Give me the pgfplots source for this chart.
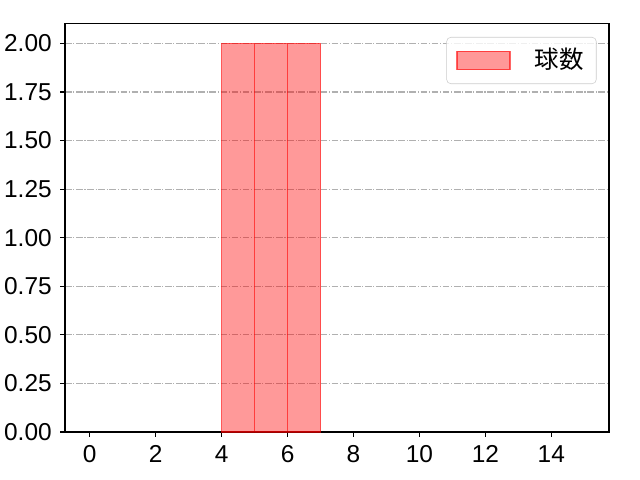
\documentclass[border=0pt]{standalone}
\usepackage{pgfplots}
\pgfplotsset{compat=1.18}
\usepackage{fontspec}
\setmainfont{Liberation Sans}
\newfontfamily\cjk{Noto Sans CJK JP}
\definecolor{gridgray}{HTML}{B0B0B0}
\definecolor{legborder}{HTML}{CCCCCC}
\pgfplotsset{
    patchlegend/.style={legend image code/.code={%
        \draw[##1, line width=1pt, sharp corners] (0pt,-6.5pt) rectangle (38pt,6.5pt);
        \path[draw=none, fill=none] (38pt,0) -- (54pt,0);}},
}
\begin{document}
\fontsize{17.6}{21}\selectfont
\begin{tikzpicture}
\begin{axis}[
    at={(0,0)}, anchor=south west,
    scale only axis,
    width=391.7pt, height=293.8pt,
    xmin=-0.75, xmax=15.75,
    ymin=0, ymax=2.1,
    xtick={0,2,...,14},
    ytick={0,0.25,...,2.0},
    yticklabel style={/pgf/number format/.cd, fixed, fixed zerofill, precision=2},
    /pgf/number format/assume math mode=true,
    tick align=outside,
    tick pos=left,
    major tick length=3.5pt,
    every tick/.style={black, line width=0.8pt},
    axis line style={line width=0.8pt},
    ymajorgrids=true,
    major grid style={gridgray, line width=0.8pt, dash pattern=on 4.8pt off 1.2pt on 0.8pt off 1.2pt},
    tick label style={font=\fontsize{17.6}{21}\selectfont},
    legend style={at={(1,1)}, anchor=north east, xshift=-9pt, yshift=-9.4pt,
        draw=legborder, rounded corners=3pt, fill=white, fill opacity=0.8, text opacity=1,
        font=\cjk\fontsize{17.6}{21}\selectfont, inner xsep=7pt, inner ysep=6pt},
    legend cell align=left,
]
\addplot[ybar interval, fill=red, fill opacity=0.4, draw=red, draw opacity=0.6, line width=1pt, patchlegend]
    coordinates {(4,2) (5,2) (6,2) (7,2)};
\addlegendentry{球数}
\end{axis}
\pgfresetboundingbox
\useasboundingbox (-46.8pt,-34.56pt) rectangle (414pt,311.04pt);
\end{tikzpicture}
\end{document}
